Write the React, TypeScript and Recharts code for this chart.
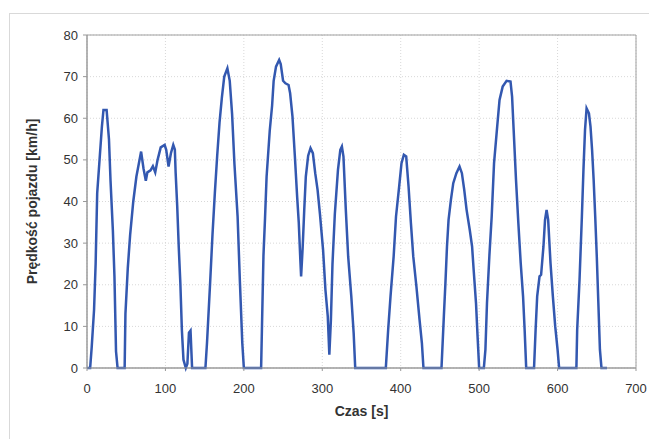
import React from "react";
import { LineChart, Line, XAxis, YAxis, CartesianGrid, ReferenceArea } from "recharts";

// drive cycle: time [s] and vehicle speed [km/h]
const timeS = [
  0, 4, 6, 9, 11, 13, 16, 19, 21, 25, 28, 30, 33, 35, 36, 37, 39, 48,
  49, 52, 55, 59, 63, 66, 69, 72, 75, 77, 81, 84, 87, 90, 94, 99, 101, 104, 107, 110, 112, 113, 115, 117, 119, 121, 123, 126, 128, 130, 132, 134, 151,
  153, 157, 160, 163, 166, 169, 172, 175, 179, 182, 185, 188, 192, 195, 198, 200, 222,
  223, 225, 227, 229, 233, 236, 238, 241, 245, 247, 250, 253, 257, 259, 262, 265, 268, 270, 272, 273, 275, 277, 279, 282, 285, 288, 291, 294, 297, 301, 304, 307, 309, 311, 313, 316, 320, 323, 325, 327, 330, 333, 337, 340, 342, 381,
  384, 387, 391, 394, 398, 401, 404, 407, 410, 413, 416, 420, 424, 427, 429, 452,
  455, 457, 459, 461, 464, 467, 471, 475, 478, 481, 484, 488, 491, 493, 496, 498, 500, 506,
  508, 510, 513, 516, 519, 523, 526, 530, 535, 540, 542, 544, 547, 550, 553, 556, 558, 560, 570,
  572, 574, 577, 579, 582, 584, 586, 588, 591, 594, 597, 600, 602, 624,
  625, 628, 631, 633, 635, 637, 640, 642, 644, 646, 648, 650, 652, 654, 656, 663,
];
const speedKmh = [
  0, 0, 5, 14, 25, 42, 50, 58, 62, 62, 55, 45, 33, 22, 13, 4, 0, 0,
  13, 24, 32, 40, 46, 49, 52, 48, 45, 47, 47.5, 48.5, 47, 50, 53, 53.6, 52.4, 48.4, 51.6, 53.6, 52.5, 47, 39, 29, 20.5, 9, 2, 0, 1, 8.5, 9, 0, 0,
  6, 20.5, 32, 42, 51, 59, 65, 70, 72, 69, 61, 49, 36.5, 20.5, 6, 0, 0,
  9, 27, 36, 46, 57, 63, 69, 72.4, 74, 73, 69, 68.4, 68, 66, 60.4, 51, 41, 35, 26, 22, 29, 38, 46, 51, 52.8, 51.6, 46.8, 42.8, 37, 28.4, 18.8, 12.4, 3.2, 11.6, 25, 37, 47.6, 52.4, 53.2, 50.8, 38, 26.8, 17.2, 8.4, 0, 0,
  9.2, 17.2, 26.8, 36.4, 43.6, 49.2, 51.2, 50.8, 43.6, 34.8, 26.8, 19.6, 11.6, 6, 0, 0,
  12.4, 20.4, 29.2, 35.6, 40.4, 44.4, 46.8, 48.4, 46.8, 42.8, 38, 33.2, 29.2, 23.6, 15.6, 7.6, 0, 0,
  4.4, 15.6, 26.8, 36.4, 49.2, 58, 64.4, 67.6, 69, 68.8, 65.2, 57.2, 45.2, 34.8, 25.2, 17.2, 9.2, 0, 0,
  9.2, 17.2, 22, 22.4, 29.2, 35.6, 38, 35.6, 25.2, 17.2, 10, 4.4, 0, 0,
  9.2, 21.2, 36.4, 47.6, 57.2, 62.4, 61.2, 58, 52.4, 45.2, 36.4, 26.8, 15.6, 4.4, 0, 0,
];
const xTicks = [0, 100, 200, 300, 400, 500, 600, 700];
const yTicks = [0, 10, 20, 30, 40, 50, 60, 70, 80];

const data = timeS.map((t, i) => ({ t, v: speedKmh[i] }));

const tickStyle = { fill: "#333", fontSize: 13, fontFamily: "Liberation Sans, Arial, sans-serif" };
const labelStyle = { fill: "#333", fontSize: 14, fontWeight: 700, fontFamily: "Liberation Sans, Arial, sans-serif" };

export default function App() {
  return (
    <div style={{ position: "absolute", left: 0, top: 0, width: 649, height: 439, background: "#fff", overflow: "hidden" }}>
      <div style={{ position: "absolute", left: 9, top: 13, width: 700, height: 500, border: "1px solid #d9d9d9" }} />
      <div style={{ position: "absolute", left: 0, top: 0 }}>
        <LineChart width={649} height={439} data={data} margin={{ top: 35, right: 13, bottom: 0, left: 27 }}>
          <CartesianGrid stroke="#d8d8d8" strokeDasharray="1 2" />
          <XAxis
            type="number"
            dataKey="t"
            domain={[0, 700]}
            ticks={xTicks}
            height={71}
            tickSize={3}
            tickMargin={13}
            stroke="#999"
            tick={tickStyle}
            label={{ value: "Czas [s]", position: "insideBottom", offset: 23, style: labelStyle }}
          />
          <YAxis
            type="number"
            domain={[0, 80]}
            ticks={yTicks}
            width={60}
            tickSize={4}
            tickMargin={5}
            stroke="#999"
            tick={tickStyle}
            label={{ value: "Prędkość pojazdu [km/h]", angle: -90, position: "insideLeft", offset: 0, dx: 5, style: { ...labelStyle, textAnchor: "middle" } }}
          />
          <ReferenceArea x1={0} x2={700} y1={0} y2={80} fill="none" stroke="#a0a0a0" strokeWidth={1} />
          <Line type="linear" dataKey="v" stroke="#3358b0" strokeWidth={2.5} dot={false} isAnimationActive={false} />
        </LineChart>
      </div>
    </div>
  );
}
